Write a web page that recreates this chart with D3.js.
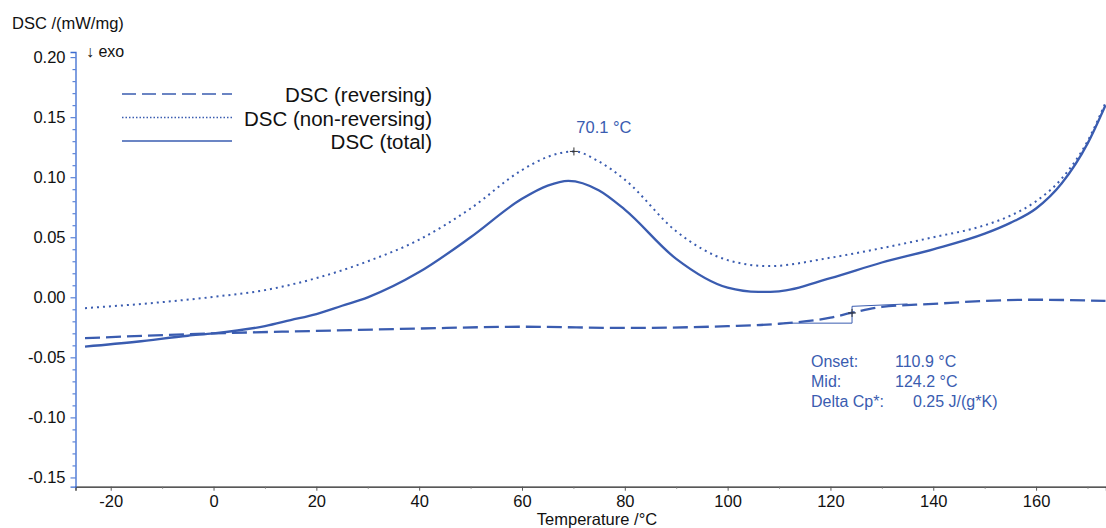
<!DOCTYPE html>
<html>
<head>
<meta charset="utf-8">
<title>DSC</title>
<script src="https://cdn.jsdelivr.net/npm/d3@7"></script>
<style>
  body { margin: 0; background: #fff; }
  svg { display: block; font-family: "Liberation Sans", Arial, sans-serif; }
</style>
</head>
<body>
<svg></svg>
<script>
// data (temperature /°C , DSC /(mW/mg))
var tempTotal = [-25, -15, -5, 0, 10, 15, 20, 25, 30, 40, 50, 60, 65, 69, 75, 80, 90, 100, 106, 110, 120, 130, 140, 150, 155, 160, 165, 170, 173.5];
var dscTotal  = [-0.041, -0.037, -0.032, -0.030, -0.024, -0.019, -0.014, -0.007, 0.000, 0.021, 0.050, 0.082, 0.093, 0.097, 0.089, 0.073, 0.032, 0.008, 0.0045, 0.005, 0.016, 0.029, 0.040, 0.053, 0.062, 0.074, 0.095, 0.128, 0.160];

var tempNonRev = [-25, -10, 0, 10, 20, 30, 40, 50, 60, 65, 70.1, 75, 80, 90, 100, 108, 120, 130, 140, 150, 155, 160, 165, 170, 173.5];
var dscNonRev  = [-0.009, -0.004, 0.0004, 0.006, 0.016, 0.030, 0.048, 0.074, 0.106, 0.117, 0.1215, 0.113, 0.098, 0.055, 0.031, 0.026, 0.033, 0.041, 0.050, 0.060, 0.068, 0.080, 0.099, 0.130, 0.162];

var tempRev = [-25, 0, 20, 40, 60, 80, 100, 110, 120, 124, 130, 140, 150, 160, 173.5];
var dscRev  = [-0.034, -0.030, -0.028, -0.026, -0.0245, -0.0255, -0.024, -0.022, -0.017, -0.013, -0.008, -0.0055, -0.003, -0.002, -0.003];

var seriesNames = ["DSC (reversing)", "DSC (non-reversing)", "DSC (total)"];
var xTicks = [-20, 0, 20, 40, 60, 80, 100, 120, 140, 160];
var yTicks = [-0.15, -0.10, -0.05, 0.00, 0.05, 0.10, 0.15, 0.20];

// peak / glass transition evaluation
var peakTemp = 70.1, peakVal = 0.1215;
var tgOnset = 110.9, tgMid = 124.2, tgDeltaCp = 0.25;
var tgLower = [[111, -0.0215], [124.2, -0.0215]];
var tgUpper = [[124.2, -0.0075], [135, -0.0055]];

var width = 1106, height = 528;
var blue = "#3a5cb0", axisBlue = "#3b6bd0";

var svg = d3.select("svg").attr("width", width).attr("height", height);

var x = d3.scaleLinear().domain([-26.85, 173.6]).range([75.5, 1106]);
var y = d3.scaleLinear().domain([-0.1577, 0.2043]).range([486.7, 52]);

// hyphen minus like the original software
function fmt(f){ var g = d3.format(f); return function(d){ return g(d).replace("\u2212", "-"); }; }

// x axis
var xAxis = svg.append("g").attr("transform", "translate(0," + y.range()[0] + ")")
  .call(d3.axisBottom(x).tickValues(xTicks).tickSize(4).tickPadding(5).tickFormat(fmt("d")));
xAxis.select(".domain").attr("stroke", "#222").attr("stroke-width", 1.3);
xAxis.selectAll(".tick line").attr("stroke", "#555");
xAxis.selectAll("text").attr("font-size", 16.5).attr("fill", "#111");
svg.append("g").attr("transform", "translate(0," + y.range()[0] + ")")
  .call(d3.axisBottom(x).tickValues(d3.range(-10, 180, 20)).tickSize(2).tickFormat(""))
  .call(function(g){ g.select(".domain").remove(); g.selectAll("line").attr("stroke", "#777"); });

// y axis
var yAxis = svg.append("g").attr("transform", "translate(" + x.range()[0] + ",0)")
  .call(d3.axisLeft(y).tickValues(yTicks).tickSize(5).tickPadding(5).tickFormat(fmt(".2f")));
yAxis.select(".domain").attr("stroke", axisBlue).attr("stroke-width", 1.3);
yAxis.selectAll(".tick line").attr("stroke", axisBlue);
yAxis.selectAll("text").attr("font-size", 16.5).attr("fill", "#111");
var minorY = d3.range(-15, 21).map(function(d){ return d / 100; }).filter(function(d){ return Math.round(d * 100) % 5 !== 0; });
svg.append("g").attr("transform", "translate(" + x.range()[0] + ",0)")
  .call(d3.axisLeft(y).tickValues(minorY).tickSize(3).tickFormat(""))
  .call(function(g){ g.select(".domain").remove(); g.selectAll("line").attr("stroke", axisBlue); });

// axis titles
svg.append("text").attr("x", 12).attr("y", 29).attr("font-size", 16.5).attr("fill", "#111").text("DSC /(mW/mg)");
svg.append("text").attr("x", 86).attr("y", 57).attr("font-size", 16).attr("fill", "#111").text("\u2193 exo");
svg.append("text").attr("x", 597).attr("y", 525).attr("text-anchor", "middle").attr("font-size", 16.5).attr("fill", "#111").text("Temperature /\u00B0C");

// curves
var line = d3.line().x(function(d){ return x(d[0]); }).y(function(d){ return y(d[1]); }).curve(d3.curveMonotoneX);
function pairs(t, v){ return t.map(function(d, i){ return [d, v[i]]; }); }

var plot = svg.append("g");
plot.append("path").datum(pairs(tempRev, dscRev)).attr("d", line)
  .attr("fill", "none").attr("stroke", blue).attr("stroke-width", 2.3).attr("stroke-dasharray", "15,6");
plot.append("path").datum(pairs(tempNonRev, dscNonRev)).attr("d", line)
  .attr("fill", "none").attr("stroke", blue).attr("stroke-width", 2).attr("stroke-dasharray", "2,4");
plot.append("path").datum(pairs(tempTotal, dscTotal)).attr("d", line)
  .attr("fill", "none").attr("stroke", blue).attr("stroke-width", 2.3);

// glass transition construction
var thin = d3.line().x(function(d){ return x(d[0]); }).y(function(d){ return y(d[1]); });
plot.append("path").datum(tgLower.concat(tgUpper)).attr("d", thin)
  .attr("fill", "none").attr("stroke", blue).attr("stroke-width", 1);
function cross(t, v){
  var cx = x(t), cy = y(v);
  plot.append("path").attr("d", "M" + (cx - 4) + "," + cy + "H" + (cx + 4) + "M" + cx + "," + (cy - 4) + "V" + (cy + 4))
    .attr("stroke", "#333").attr("stroke-width", 1);
}
cross(peakTemp, peakVal);
cross(tgMid, -0.013);

// annotations
svg.append("text").attr("x", x(peakTemp) + 30).attr("y", 133).attr("text-anchor", "middle")
  .attr("font-size", 16.5).attr("fill", blue).text(peakTemp.toFixed(1) + " \u00B0C");

var info = [["Onset:", tgOnset.toFixed(1) + " \u00B0C", 895], ["Mid:", tgMid.toFixed(1) + " \u00B0C", 895], ["Delta Cp*:", tgDeltaCp.toFixed(2) + " J/(g*K)", 913]];
info.forEach(function(r, i){
  svg.append("text").attr("x", 811).attr("y", 367 + i * 20).attr("font-size", 16).attr("fill", blue).text(r[0]);
  svg.append("text").attr("x", r[2]).attr("y", 367 + i * 20).attr("font-size", 16).attr("fill", blue).text(r[1]);
});

// legend
var dashes = ["14,6", "1.5,2", null];
seriesNames.forEach(function(name, i){
  var ly = 94 + i * 23.5;
  svg.append("line").attr("x1", 122).attr("x2", 232).attr("y1", ly).attr("y2", ly)
    .attr("stroke", blue).attr("stroke-width", 1.3).attr("stroke-dasharray", dashes[i]);
  svg.append("text").attr("x", 432).attr("y", ly + 8).attr("text-anchor", "end")
    .attr("font-size", 20.5).attr("fill", "#111").text(name);
});
</script>
</body>
</html>
